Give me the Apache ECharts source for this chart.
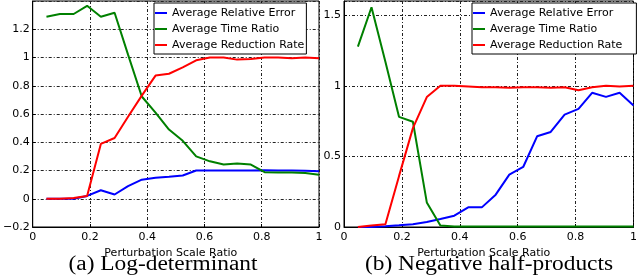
<!DOCTYPE html>
<html>
<head>
<meta charset="utf-8">
<script src="https://cdn.jsdelivr.net/npm/echarts@6/dist/echarts.min.js"></script>
<style>
html,body{margin:0;padding:0;background:#fff;}
#chart{width:640px;height:278px;}
</style>
</head>
<body>
<div id="chart"></div>
<script>
// Perturbation scale ratio (x values)
const ratio = [0.048,0.095,0.143,0.190,0.238,0.286,0.333,0.381,0.429,0.476,0.524,0.571,0.619,0.667,0.714,0.762,0.810,0.857,0.905,0.952,1.000];
const seriesNames = ['Average Relative Error','Average Time Ratio','Average Reduction Rate'];
const xTickLabels = ['0','0.2','0.4','0.6','0.8','1'];
const yTickLabelsA = ['\u22120.2','0','0.2','0.4','0.6','0.8','1','1.2'];
const yTickLabelsB = ['0','0.5','1','1.5'];
const titleA = '(a) Log-determinant';
const titleB = '(b) Negative half-products';
const xName = 'Perturbation Scale Ratio';

// (a) Log-determinant
const errA  = [0,0,0,0.02,0.06,0.03,0.09,0.135,0.148,0.155,0.165,0.2,0.2,0.2,0.2,0.2,0.202,0.2,0.2,0.198,0.195];
const timeA = [1.289,1.308,1.308,1.366,1.289,1.317,1.02,0.724,0.61,0.49,0.41,0.30,0.265,0.242,0.25,0.242,0.188,0.185,0.185,0.182,0.17];
const redA  = [0,0,0.005,0.02,0.388,0.43,0.58,0.73,0.872,0.885,0.93,0.98,1.0,1.0,0.985,0.99,1.0,1.0,0.995,1.0,0.995];

// (b) Negative half-products
const errB  = [0,0,0.005,0.012,0.02,0.035,0.057,0.08,0.139,0.139,0.229,0.371,0.425,0.642,0.673,0.796,0.836,0.95,0.921,0.95,0.86];
const timeB = [1.277,1.556,1.17,0.78,0.745,0.174,0.011,0.003,0.003,0.003,0.003,0.003,0.003,0.003,0.003,0.003,0.003,0.003,0.003,0.003,0.003];
const redB  = [0,0.01,0.02,0.36,0.70,0.92,1.0,1.0,0.995,0.99,0.99,0.985,0.99,0.99,0.985,0.99,0.968,0.99,1.0,0.995,1.0];

const colors = ['#0000ff','#008000','#ff0000'];
const FONT = 'DejaVu Sans';

function pairs(arr){ return ratio.map((x,i)=>[x, arr[i]]); }
function fmt(list, mn, step){
  return function(v){
    const idx = Math.round((v - mn)/step);
    if (Math.abs(mn + idx*step - v) > 1e-6) return '';
    return list[idx] !== undefined ? list[idx] : '';
  };
}
const gridLine = {show:true, lineStyle:{color:'#222', width:1, type:[3,2,1,2]}};

function xAxis(gi){
  return {
    type:'value', gridIndex:gi, min:0, max:1, interval:0.2,
    name:xName, nameLocation:'middle', nameGap:13,
    nameTextStyle:{fontFamily:FONT, fontSize:11, color:'#000', padding:[0,10,0,0]},
    axisLine:{show:true, onZero:false, lineStyle:{color:'#000', width:1}},
    axisTick:{show:true, inside:true, length:3, lineStyle:{color:'#000'}},
    axisLabel:{fontFamily:FONT, fontSize:11, color:'#000', margin:5, formatter:fmt(xTickLabels,0,0.2)},
    splitLine:gridLine
  };
}
function yAxis(gi, mn, mx, step, labels){
  return {
    type:'value', gridIndex:gi, min:mn, max:mx, interval:step,
    axisLine:{show:true, onZero:false, lineStyle:{color:'#000', width:1}},
    axisTick:{show:true, inside:true, length:3, lineStyle:{color:'#000'}},
    axisLabel:{fontFamily:FONT, fontSize:11, color:'#000', margin:3, showMaxLabel:false, formatter:fmt(labels,mn,step)},
    splitLine:gridLine
  };
}
function line(name, gi, data, ci){
  return {
    type:'line', name:name, xAxisIndex:gi, yAxisIndex:gi, data:pairs(data),
    showSymbol:false, symbol:'none', color:colors[ci],
    lineStyle:{color:colors[ci], width:2}, z:2+ci, animation:false
  };
}
function legend(left, padRight){
  return {
    orient:'vertical', left:left, top:3, icon:'rect', itemWidth:12, itemHeight:2,
    itemGap:2, padding:[3,padRight,2,1],
    borderColor:'#000', borderWidth:1, backgroundColor:'#fff',
    textStyle:{fontFamily:FONT, fontSize:11, color:'#000', lineHeight:14},
    data:seriesNames, selectedMode:false
  };
}

const chart = echarts.init(document.getElementById('chart'), null, {renderer:'canvas'});
chart.setOption({
  animation:false,
  backgroundColor:'#fff',
  grid:[
    {left:29, top:1, width:290, height:226, show:true, borderColor:'#000', borderWidth:1, backgroundColor:'transparent'},
    {left:344, top:1, width:294, height:226, show:true, borderColor:'#000', borderWidth:1, backgroundColor:'transparent'}
  ],
  xAxis:[xAxis(0), xAxis(1)],
  yAxis:[yAxis(0,-0.2,1.4,0.2,yTickLabelsA), yAxis(1,0,1.6,0.5,yTickLabelsB)],
  legend:[legend(154,2), legend(472,14)],
  series:[
    line(seriesNames[0],0,errA,0), line(seriesNames[1],0,timeA,1), line(seriesNames[2],0,redA,2),
    line(seriesNames[0],1,errB,0), line(seriesNames[1],1,timeB,1), line(seriesNames[2],1,redB,2)
  ],
  graphic:[
    {type:'text', x:163, y:265, scaleX:1.17, style:{text:titleA, font:'20px "Liberation Serif"', align:'center', verticalAlign:'middle', fill:'#000'}},
    {type:'text', x:489, y:265, scaleX:1.17, style:{text:titleB, font:'20px "Liberation Serif"', align:'center', verticalAlign:'middle', fill:'#000'}}
  ]
});
</script>
</body>
</html>
